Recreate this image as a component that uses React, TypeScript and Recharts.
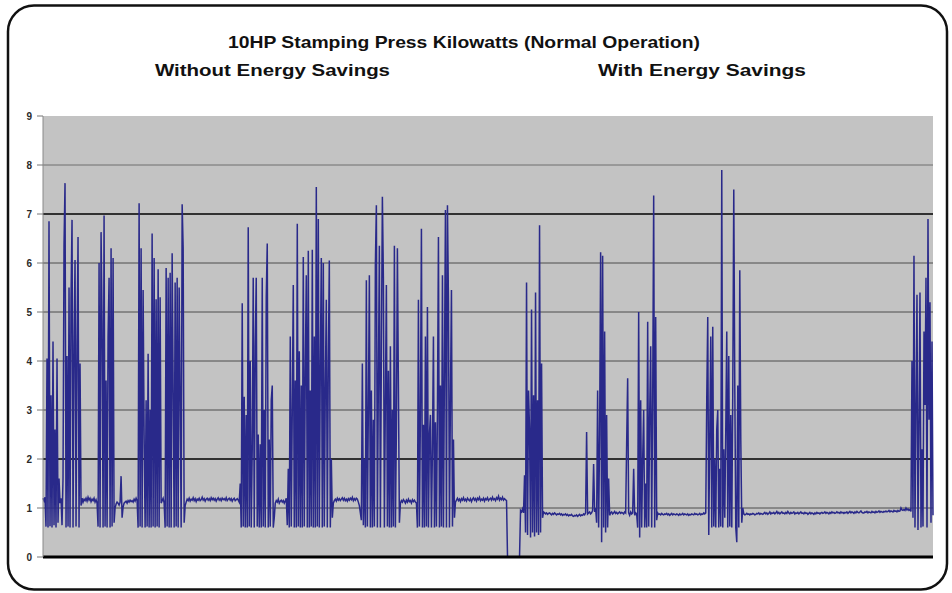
import React from 'react'
import { CartesianGrid, Line, LineChart, ReferenceLine, XAxis, YAxis } from 'recharts'

// kW readings, one sample per plotted column left to right
const title = '10HP Stamping Press Kilowatts (Normal Operation)'
const leftCaption = 'Without Energy Savings'
const rightCaption = 'With Energy Savings'
const yTicks = [0, 1, 2, 3, 4, 5, 6, 7, 8, 9]

// --- without energy savings ---
const start = [1.2, 1.15, 1.22]
const burstA = [0.62, 4.05, 0.6, 6.85, 0.63, 3.3, 0.6, 4.4, 0.65, 2.6, 0.6, 4.05, 0.7, 1.6]
const gapA = [1.1, 1.2]
const burstB = [0.65, 1.6, 6.37, 7.63, 0.6, 4.1, 0.62, 5.5, 0.6, 5.28, 6.88, 0.6, 4.3, 6.06, 0.62, 4.3, 6.53, 0.6, 3.95]
const flatB = [1.05, 1.2, 1.12, 1.18, 1.15, 1.2, 1.14, 1.22, 1.16, 1.2, 1.13, 1.18, 1.15, 1.2, 1.12, 1.17, 1.1]
const burstC = [0.62, 6.0, 0.6, 6.63, 4.8, 0.6, 6.97, 0.62, 3.6, 0.6, 4.5, 5.7, 0.6, 6.3, 0.62, 6.1, 0.7]
const flatC = [1.0, 1.08, 1.12, 1.1, 1.06, 1.12, 1.65, 0.8, 1.02, 1.1, 1.12, 1.14, 1.1, 1.15, 1.12, 1.16, 1.13, 1.15, 1.12, 1.18, 1.14, 1.2, 1.15]
const burstD = [0.6, 7.22, 0.62, 6.3, 0.6, 5.45, 2.5, 0.6, 3.2, 0.62, 4.15, 0.6, 3.0, 0.6, 6.6, 0.62, 6.1, 0.6, 5.26, 0.62, 5.87, 0.6, 5.3]
const gapD = [1.1, 1.15, 1.2, 1.1]
const burstE = [0.6, 5.9, 0.62, 5.7, 0.6, 5.8, 0.6, 6.2, 3.4, 0.6, 5.6, 0.62, 5.7, 0.6, 5.5, 3.3, 0.6, 7.2, 6.3, 0.7]
const flatE = [
  1.05, 1.12, 1.18, 1.15, 1.2, 1.14, 1.18, 1.16, 1.21, 1.15, 1.19, 1.13, 1.18, 1.16, 1.2, 1.15, 1.17, 1.22, 1.16, 1.19,
  1.14, 1.18, 1.2, 1.16, 1.19, 1.15, 1.21, 1.17, 1.2, 1.16, 1.19, 1.14, 1.18, 1.21, 1.16, 1.19, 1.15, 1.2, 1.17, 1.19,
  1.16, 1.21, 1.15, 1.18, 1.2, 1.16, 1.19, 1.14, 1.18, 1.2, 1.15, 1.17, 1.19, 1.16, 1.12,
]
const burstF = [1.5, 0.6, 5.18, 0.62, 3.27, 0.6, 2.9, 0.6, 6.73, 0.62, 4.0, 0.6, 2.2, 5.7, 0.6, 4.3, 5.7, 0.62, 2.5, 0.6, 2.3, 0.6, 5.7, 0.62, 3.0, 0.6, 5.3, 6.4, 0.6, 2.4, 0.62, 3.2, 3.5, 0.6, 0.8]
const flatF = [1.1, 1.15, 1.12, 1.18, 1.1, 1.14, 1.16, 1.12, 1.15, 1.1, 1.14, 1.2]
const burstG = [0.65, 1.8, 0.6, 4.5, 0.62, 3.0, 5.55, 0.6, 3.6, 0.6, 6.8, 0.62, 4.2, 0.6, 3.5, 0.6, 6.12, 0.62, 3.8, 5.75, 0.6, 6.25, 0.6, 3.4, 0.62, 6.27, 0.6, 4.5, 0.6, 7.55, 0.62, 6.9, 0.6, 3.9, 6.1, 0.6, 6.0, 0.62, 3.5, 5.25, 0.6, 4.0, 6.05, 0.6, 2.0, 0.8]
const flatG = [1.1, 1.15, 1.18, 1.14, 1.2, 1.16, 1.19, 1.15, 1.18, 1.21, 1.16, 1.2, 1.15, 1.18, 1.14, 1.19, 1.16, 1.2, 1.17, 1.22, 1.15, 1.19, 1.16, 1.2, 1.18, 1.12, 1.05]
const burstH = [0.9, 0.75, 3.95, 0.65, 2.0, 0.6, 5.65, 0.62, 3.0, 5.75, 0.6, 3.4, 0.6, 2.8, 0.62, 5.95, 7.18, 0.6, 3.6, 6.35, 0.6, 4.2, 7.35, 5.7, 0.6, 3.2, 5.55, 0.62, 3.8, 0.6, 4.3, 0.6, 3.0, 0.62, 6.35, 0.6, 2.6, 6.3, 3.5, 0.7]
const flatH = [1.1, 1.15, 1.12, 1.17, 1.14, 1.1, 1.16, 1.12, 1.18, 1.13, 1.15, 1.1, 1.17, 1.13, 1.16, 1.12, 1.1]
const burstI = [0.6, 5.25, 0.62, 2.9, 6.7, 0.6, 2.7, 0.6, 4.5, 0.62, 5.1, 0.6, 2.5, 2.9, 0.6, 2.2, 4.5, 0.6, 2.75, 0.62, 3.0, 6.53, 0.6, 3.5, 0.62, 5.75, 0.6, 3.8, 7.08, 0.6, 7.18, 5.2, 0.6, 3.3, 5.45, 0.62, 2.4, 0.8]
const flatI = [
  1.12, 1.16, 1.2, 1.15, 1.18, 1.13, 1.19, 1.16, 1.21, 1.15, 1.18, 1.14, 1.2, 1.17, 1.15, 1.19, 1.13, 1.18, 1.21, 1.16,
  1.19, 1.14, 1.2, 1.17, 1.22, 1.15, 1.18, 1.16, 1.2, 1.14, 1.19, 1.17, 1.21, 1.15, 1.18, 1.2, 1.16, 1.22, 1.17, 1.19,
  1.15, 1.21, 1.18, 1.24, 1.16, 1.2, 1.17, 1.22, 1.16, 1.19, 1.17, 1.15,
]

// --- switch-over: meter reads zero ---
const switchOver = [0, 0, 0, 0, 0, 0, 0, 0, 0, 0, 0, 0, 0]

// --- with energy savings ---
const restart = [0.95, 0.92, 0.98, 0.9, 1.67]
const burstJ = [0.5, 5.6, 0.45, 3.4, 2.6, 0.4, 5.05, 0.5, 3.3, 0.42, 5.4, 0.5, 3.2, 0.45, 6.77, 0.5, 3.95, 0.8]
const flatJ = [
  0.92, 0.9, 0.88, 0.9, 0.87, 0.89, 0.9, 0.88, 0.86, 0.89, 0.87, 0.9, 0.88, 0.86, 0.88, 0.87, 0.89, 0.86, 0.88, 0.85,
  0.87, 0.86, 0.88, 0.85, 0.87, 0.84, 0.86, 0.85, 0.87, 0.84, 0.83, 0.85, 0.84, 0.86, 0.83, 0.85, 0.87, 0.84, 0.86, 0.85,
  0.88, 0.86, 0.9,
]
const blipsK = [2.55, 0.88, 0.9, 0.92, 0.88, 0.9, 0.95, 1.9, 0.92, 1.0]
const burstK = [0.7, 3.4, 0.6, 2.5, 6.22, 0.3, 6.15, 0.6, 4.6, 0.5, 2.9, 0.6, 1.6, 0.85]
const flatK = [0.9, 0.92, 0.88, 0.9, 0.93, 0.89, 0.91, 0.88, 0.9, 0.92, 0.89, 0.91, 0.9, 0.88, 0.92, 0.9]
const blipsL = [2.3, 3.65, 0.9, 0.85, 0.92, 0.88, 0.9, 1.8, 0.85, 0.9, 0.88]
const burstL = [0.6, 5.0, 0.4, 3.2, 0.6, 2.0, 3.0, 0.6, 1.5, 0.6, 4.8, 0.62, 2.9, 4.3, 0.6, 3.2, 7.38, 0.6, 4.9, 0.75]
const flatL = [
  0.9, 0.87, 0.88, 0.86, 0.89, 0.87, 0.86, 0.88, 0.87, 0.89, 0.86, 0.88, 0.85, 0.87, 0.89, 0.86, 0.88, 0.87, 0.86, 0.88,
  0.87, 0.85, 0.88, 0.86, 0.87, 0.89, 0.86, 0.88, 0.87, 0.86, 0.88, 0.85, 0.87, 0.86, 0.88, 0.87, 0.86, 0.89, 0.87, 0.88,
  0.86, 0.87, 0.89, 0.86, 0.88, 0.87, 0.9, 0.88, 0.9,
]
const burstM = [3.2, 4.9, 0.45, 2.4, 4.5, 0.6, 4.7, 0.62, 2.0, 0.6, 2.6, 3.0, 0.6, 1.8, 0.62, 7.9, 0.6, 2.2, 0.8, 2.6, 4.6, 0.6, 4.1, 0.62, 2.9, 0.6, 3.4, 7.5, 3.5, 0.6, 0.3, 3.5, 0.6, 5.85, 2.4, 0.7, 1.0]
const flatM = [
  0.88, 0.86, 0.87, 0.89, 0.87, 0.88, 0.86, 0.88, 0.87, 0.89, 0.88, 0.86, 0.87, 0.89, 0.88, 0.9, 0.87, 0.89, 0.88, 0.87,
  0.89, 0.91, 0.88, 0.9, 0.87, 0.89, 0.92, 0.88, 0.9, 0.89, 0.91, 0.88, 0.9, 0.93, 0.89, 0.91, 0.88, 0.9, 0.92, 0.89,
  0.9, 0.88, 0.91, 0.89, 0.93, 0.9, 0.88, 0.91, 0.89, 0.9, 0.92, 0.88, 0.9, 0.89, 0.91, 0.88, 0.9, 0.92, 0.89, 0.9,
  0.88, 0.91, 0.89, 0.9, 0.87, 0.89, 0.91, 0.88, 0.9, 0.89, 0.87, 0.9, 0.88, 0.91, 0.89, 0.9, 0.88, 0.9, 0.91, 0.89,
  0.9, 0.92, 0.89, 0.91, 0.9, 0.88, 0.91, 0.89, 0.92, 0.9, 0.91, 0.89, 0.9, 0.92, 0.9, 0.91, 0.89, 0.92, 0.9, 0.91,
  0.89, 0.91, 0.9, 0.92, 0.89, 0.91, 0.93, 0.9, 0.92, 0.91, 0.89, 0.92, 0.9, 0.93, 0.91, 0.9, 0.92, 0.94, 0.91, 0.9,
  0.9, 0.92, 0.91, 0.93, 0.9, 0.92, 0.91, 0.9, 0.93, 0.91, 0.92, 0.9, 0.93, 0.91, 0.92, 0.94, 0.91, 0.93, 0.92, 0.91,
  0.93, 0.92, 0.94, 0.92, 0.93, 0.95, 0.92, 0.94, 0.93, 0.92, 0.95, 0.93, 0.94, 0.92, 0.95, 0.93, 0.94, 1.0, 0.96, 0.95,
  0.97, 0.95, 1.0, 0.96, 0.98, 0.95, 0.97, 0.93,
]
const burstN = [4.0, 0.8, 6.15, 0.6, 3.0, 5.35, 0.55, 2.6, 5.4, 0.6, 2.2, 0.62, 4.6, 3.1, 5.7, 0.6, 6.9, 2.8, 5.2, 0.7, 4.4, 0.85]

const kw = [
  ...start, ...burstA, ...gapA, ...burstB, ...flatB, ...burstC, ...flatC, ...burstD, ...gapD, ...burstE, ...flatE,
  ...burstF, ...flatF, ...burstG, ...flatG, ...burstH, ...flatH, ...burstI, ...flatI,
  ...switchOver,
  ...restart, ...burstJ, ...flatJ, ...blipsK, ...burstK, ...flatK, ...blipsL, ...burstL, ...flatL, ...burstM, ...flatM, ...burstN,
]

const data = kw.map((v, i) => ({ i, kw: v }))

const font = '"Liberation Sans", Arial, sans-serif'

// grid lines in the scan are not all the same shade: 2 and 7 are black
const gridLine = (p: any) => {
  const v = Math.round(((p.y + p.height - p.y1) / p.height) * 9)
  if (v === 9 || v === 0) return <g key={p.key} />
  const dark = v === 7 || v === 2
  const stroke = dark ? '#000' : v === 8 ? '#6e6e6e' : '#4c4c4c'
  return <line key={p.key} x1={p.x1} y1={p.y1} x2={p.x2} y2={p.y2} stroke={stroke} strokeWidth={dark ? 1.4 : 1} />
}

export default function App() {
  return (
    <div style={{ position: 'absolute', left: 0, top: 0, width: 952, height: 593, background: '#fff', fontFamily: font }}>
      <LineChart
        width={952}
        height={593}
        data={data}
        margin={{ top: 116, right: 19, bottom: 36, left: 13 }}
        style={{ position: 'absolute', left: 0, top: 0 }}
      >
        <CartesianGrid vertical={false} horizontal={gridLine} fill="#c3c3c3" />
        <XAxis dataKey="i" type="number" domain={[0, kw.length - 1]} hide />
        <YAxis
          domain={[0, 9]}
          ticks={yTicks}
          interval={0}
          width={30}
          tickSize={6}
          tickMargin={5}
          tick={{ fontSize: 10, fontWeight: 'bold', fill: '#2a2a2a', fontFamily: font }}
          tickLine={{ stroke: '#777' }}
          axisLine={{ stroke: '#8a8a8a' }}
        />
        <Line
          type="linear"
          dataKey="kw"
          stroke="#29298a"
          strokeWidth={1.5}
          dot={false}
          activeDot={false}
          isAnimationActive={false}
        />
        <ReferenceLine y={0} stroke="#000" strokeWidth={3} />
      </LineChart>
      <svg width={952} height={593} style={{ position: 'absolute', left: 0, top: 0, pointerEvents: 'none' }}>
        <rect x={8} y={5.5} width={939} height={584} rx={26} ry={26} fill="none" stroke="#111" strokeWidth={2.5} />
        <g fontFamily={font} fontWeight="bold" fill="#111" fontSize={17} textAnchor="middle">
          <text x={464} y={48} textLength={472} lengthAdjust="spacingAndGlyphs">{title}</text>
          <text x={272.5} y={76} textLength={235} lengthAdjust="spacingAndGlyphs">{leftCaption}</text>
          <text x={702} y={76} textLength={208} lengthAdjust="spacingAndGlyphs">{rightCaption}</text>
        </g>
      </svg>
    </div>
  )
}
